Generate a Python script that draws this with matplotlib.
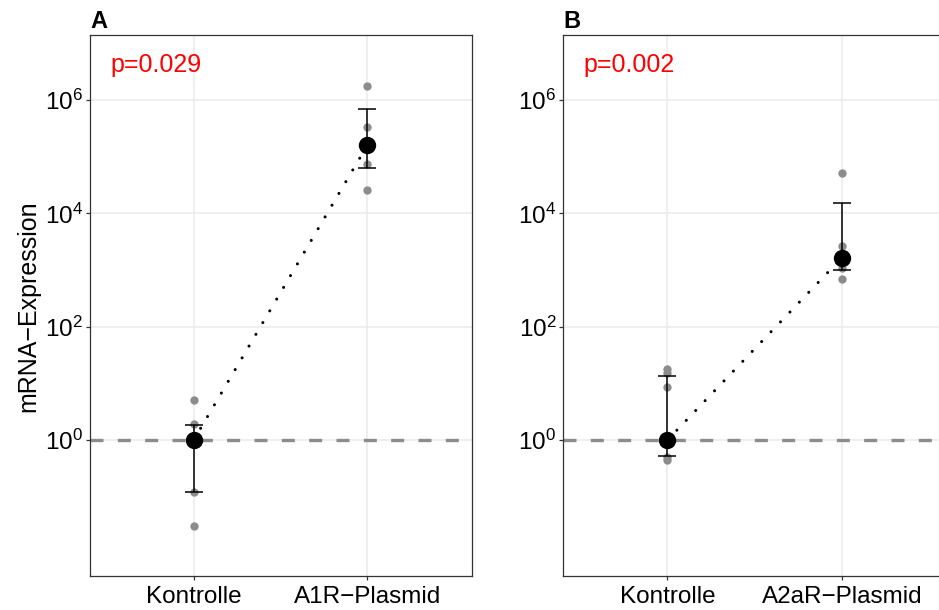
import numpy as np
import matplotlib
matplotlib.use('Agg')
import matplotlib.pyplot as plt
from matplotlib.ticker import FixedLocator, LogFormatterSciNotation, NullLocator

plt.rcParams['font.family'] = ['Liberation Sans', 'DejaVu Sans']
plt.rcParams['mathtext.fontset'] = 'custom'
plt.rcParams['mathtext.rm'] = 'Liberation Sans'
plt.rcParams['mathtext.it'] = 'Liberation Sans:italic'
plt.rcParams['mathtext.bf'] = 'Liberation Sans:bold'

# Data
groups_a = ['Kontrolle', 'A1R\u2212Plasmid']
groups_b = ['Kontrolle', 'A2aR\u2212Plasmid']

points_a_ctrl = [5.1, 1.9, 0.12, 0.03]
points_a_plasmid = [1.8e6, 3.4e5, 7.6e4, 2.6e4]
mean_a = [1.0, 1.6e5]
err_low_a = [0.12, 6.3e4]
err_high_a = [1.85, 6.9e5]

points_b_ctrl = [18, 15, 8.7, 0.5, 0.45]
points_b_plasmid = [5.1e4, 2.7e3, 1.1e3, 7.1e2]
mean_b = [1.0, 1.66e3]
err_low_b = [0.52, 1.0e3]
err_high_b = [13.5, 1.5e4]

y_ticks = [1, 1e2, 1e4, 1e6]
p_values = ['p=0.029', 'p=0.002']
panel_labels = ['A', 'B']

fig = plt.figure(figsize=(9.39, 6.10), dpi=100)
W, H = 939, 610
top, bottom = 35, 576
ax_a = fig.add_axes([89.5 / W, 1 - bottom / H, 382 / W, (bottom - top) / H])
ax_b = fig.add_axes([562.7 / W, 1 - bottom / H, 384 / W, (bottom - top) / H])

panels = [
    (ax_a, groups_a, points_a_ctrl, points_a_plasmid, mean_a, err_low_a, err_high_a),
    (ax_b, groups_b, points_b_ctrl, points_b_plasmid, mean_b, err_low_b, err_high_b),
]

for i, (ax, groups, pc, pp, mean, lo, hi) in enumerate(panels):
    x = np.array([1, 2])
    ax.set_yscale('log')
    ax.set_ylim(10 ** -2.40, 10 ** 7.15)
    ax.set_xlim(0.4, 2.6)

    ax.yaxis.set_major_locator(FixedLocator(y_ticks))
    ax.yaxis.set_major_formatter(LogFormatterSciNotation(base=10))
    ax.yaxis.set_minor_locator(NullLocator())
    ax.set_xticks(x)
    ax.set_xticklabels(groups)

    ax.grid(True, color='#ebebeb', linewidth=1.1, zorder=0)
    ax.set_axisbelow(True)

    ax.axhline(1, color='#8c8c8c', linewidth=2.4, dashes=(3.9, 4.3), zorder=1)

    ax.scatter(np.full(len(pc), 1), pc, s=36, color='#8c8c8c', zorder=2, linewidths=0)
    ax.scatter(np.full(len(pp), 2), pp, s=36, color='#8c8c8c', zorder=2, linewidths=0)

    mean = np.array(mean)
    yerr = np.vstack([mean - np.array(lo), np.array(hi) - mean])
    ax.errorbar(x, mean, yerr=yerr, fmt='none', ecolor='black', elinewidth=1.1,
                capsize=6.2, capthick=1.1, zorder=3)
    ax.plot(x, mean, color='black', linewidth=2.2, linestyle=(0, (0.01, 4.45)),
            dash_capstyle='round', zorder=3)
    ax.plot(x, mean, 'o', color='black', markersize=11.5, zorder=4)

    for s in ax.spines.values():
        s.set_color('#333333')
        s.set_linewidth(0.9)
    ax.tick_params(axis='both', which='major', length=3, width=0.9, color='#333333',
                   labelsize=17.5, labelcolor='black')
    ax.tick_params(axis='y', pad=1.5)
    ax.tick_params(axis='x', pad=4)

    ax.text(0.054, 0.9316, p_values[i], transform=ax.transAxes, color='#ff0000',
            fontsize=18, va='baseline', ha='left')

fig.text(90 / W, 1 - 28 / H, panel_labels[0], fontsize=17, fontweight='bold',
         va='baseline', ha='left')
fig.text(563 / W, 1 - 28 / H, panel_labels[1], fontsize=17, fontweight='bold',
         va='baseline', ha='left')
fig.text(28 / W, 1 - 306 / H, 'mRNA\u2212Expression', fontsize=18, rotation=90,
         va='center', ha='center')

fig.savefig('out.png', dpi=100)
